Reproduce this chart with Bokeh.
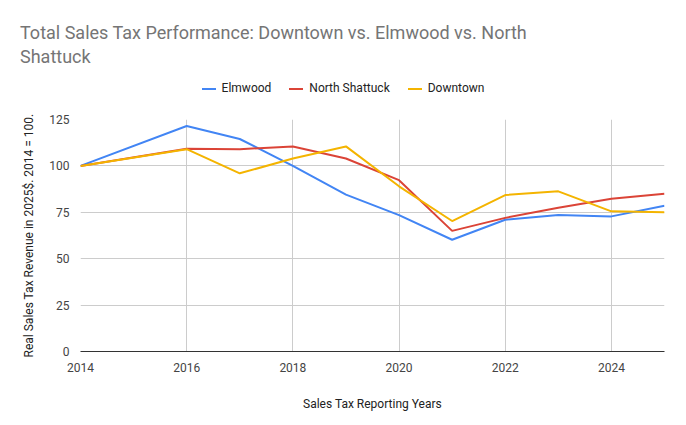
from bokeh.plotting import figure
from bokeh.models import FixedTicker, Div
from bokeh.layouts import column
from bokeh.embed import file_html
from bokeh.resources import INLINE

years = [2014, 2016, 2017, 2018, 2019, 2020, 2021, 2022, 2023, 2024, 2025]
elmwood = [100, 121.5, 114.5, 100, 84.5, 73.5, 60.2, 71, 73.5, 72.8, 78.5]
north_shattuck = [100, 109.3, 109, 110.5, 104, 92.3, 65, 72, 77.5, 82.3, 85]
downtown = [100, 109, 96, 104, 110.5, 89, 70.3, 84.3, 86.3, 75.5, 75]
series_names = ["Elmwood", "North Shattuck", "Downtown"]
colors = ["#4285F4", "#DB4437", "#F4B400"]

title = Div(text="Total Sales Tax Performance: Downtown vs. Elmwood vs. North<br>Shattuck",
            width=670, height=78, margin=0,
            styles={"font-family": "Roboto", "font-size": "18px", "color": "#757575",
                    "line-height": "24px", "padding-left": "20px", "padding-top": "21px"})

items = "".join(
    f'<span style="display:inline-flex;align-items:center;margin:0 9px;">'
    f'<span style="display:inline-block;width:14px;height:2px;background:{c};margin-right:6px;"></span>{n}</span>'
    for n, c in zip(series_names, colors))
legend = Div(text=items, width=686, height=20, margin=0,
             styles={"font-family": "Roboto", "font-size": "12px", "color": "#222222",
                     "text-align": "center", "width": "686px", "display": "flex",
                     "justify-content": "center"})

p = figure(width=670, height=317, output_backend="svg", toolbar_location=None,
           x_range=(2014, 2025), y_range=(0, 125),
           min_border_left=80, min_border_right=6, min_border_top=21, min_border_bottom=64)
p.outline_line_color = None

for vals, c in zip([elmwood, north_shattuck, downtown], colors):
    p.line(years, vals, line_color=c, line_width=2)

p.xaxis.ticker = FixedTicker(ticks=[2014, 2016, 2018, 2020, 2022, 2024])
p.yaxis.ticker = FixedTicker(ticks=[0, 25, 50, 75, 100, 125])
for ax in (p.xaxis[0], p.yaxis[0]):
    ax.axis_line_color = None
    ax.major_tick_line_color = None
    ax.minor_tick_line_color = None
    ax.major_label_text_font = "Roboto"
    ax.major_label_text_font_size = "12px"
    ax.major_label_text_color = "#444444"
    ax.axis_label_text_font = "Roboto"
    ax.axis_label_text_font_size = "12px"
    ax.axis_label_text_font_style = "normal"
    ax.axis_label_text_color = "#222222"
p.xaxis.axis_label = "Sales Tax Reporting Years"
p.yaxis.axis_label = "Real Sales Tax Revenue in 2025$. 2014 = 100."
p.xaxis.axis_label_standoff = 22
p.yaxis.axis_label_standoff = 10
p.xaxis.axis_line_color = "#333333"
p.grid.grid_line_color = "#cccccc"

layout = column(title, legend, p, spacing=0)
open("out.html", "w").write(file_html(layout, INLINE))
